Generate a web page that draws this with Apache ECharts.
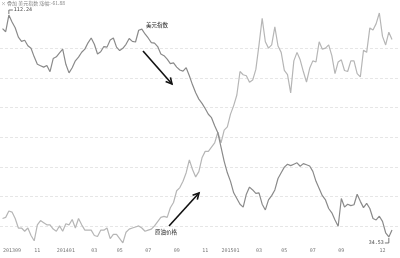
<!DOCTYPE html>
<html><head><meta charset="utf-8">
<script src="https://cdn.jsdelivr.net/npm/echarts@6/dist/echarts.min.js"></script>
<style>html,body{margin:0;padding:0;background:#fff}#c{width:400px;height:258px}</style>
</head><body><div id="c"></div>
<script>
// ---- data (weekly) ----
const startWeek = '2013-08-16';
const headerText = '× 叠加 美元指数 涨幅:-61.88';
const usdName = '美元指数';
const oilName = '原油价格';
const oil = [107.5,106.4,112.24,109.8,107.8,104.5,103.0,103.4,101.5,100.6,
  97.6,95.0,94.5,94.0,94.6,92.4,97.0,97.6,99.0,100.3,
  95.0,92.0,93.8,96.2,97.5,99.2,100.3,102.5,104.2,102.0,
  98.6,99.4,101.2,101.0,103.5,104.2,101.0,99.8,100.6,102.0,
  104.0,103.0,102.8,106.9,107.3,105.6,104.2,102.6,102.4,101.2,
  98.6,98.0,96.8,95.2,95.5,94.0,93.0,92.6,93.8,91.0,
  87.8,85.0,82.8,81.3,79.5,77.5,76.3,73.5,71.0,66.0,
  61.0,57.0,54.0,50.0,48.0,46.0,45.0,49.5,52.0,51.0,
  49.8,50.0,46.0,44.0,47.5,49.0,51.0,55.0,57.0,59.0,
  60.0,59.5,60.0,60.5,59.3,60.2,59.8,59.4,57.5,54.0,
  51.5,49.0,47.5,44.5,43.0,40.5,38.3,48.0,45.0,46.0,
  45.5,45.8,49.5,47.0,44.8,46.3,44.5,41.0,40.5,41.8,
  40.0,36.0,34.53,37.0];
const usd = [81.3,81.4,82.0,81.9,81.3,80.4,80.4,80.1,80.4,79.7,
  79.2,80.7,81.1,80.9,80.7,80.7,80.3,80.1,80.6,80.1,
  80.8,80.7,81.2,80.4,81.3,80.7,80.2,80.2,80.2,79.7,
  79.6,80.2,80.2,80.4,79.4,79.8,79.8,79.4,79.0,80.0,
  80.3,80.4,80.5,80.6,80.4,80.1,80.2,80.3,80.6,81.0,
  81.4,81.5,81.4,82.3,82.8,83.9,84.2,84.8,85.6,86.8,
  85.9,85.2,85.7,87.0,87.6,87.6,88.0,88.4,89.4,88.4,
  89.6,89.9,91.1,91.9,92.9,95.1,94.8,94.7,94.1,94.3,
  95.3,97.6,100.1,97.9,97.3,97.6,99.3,97.5,96.9,95.2,
  94.8,93.1,96.1,96.9,96.2,95.1,94.1,95.4,96.1,96.0,
  97.9,97.2,97.3,97.6,96.6,94.9,96.0,96.2,95.2,95.1,
  96.1,96.1,94.9,94.6,97.1,96.9,99.2,99.0,99.6,100.6,
  98.4,97.6,98.8,98.1];
const tickMonths = ['2013-09','2013-11','2014-01','2014-03','2014-05','2014-07','2014-09','2014-11',
  '2015-01','2015-03','2015-05','2015-07','2015-09','2015-12'];
const tickLabels = ['201309','11','201401','03','05','07','09','11','201501','03','05','07','09','12'];

// ---- categories (one per week) ----
const weeks = [];
const d0 = new Date(startWeek + 'T00:00:00Z');
for (let i = 0; i < oil.length; i++) {
  weeks.push(new Date(d0.getTime() + i * 7 * 86400000).toISOString().slice(0, 10));
}
const labelAt = {};
tickMonths.forEach((m, k) => {
  const i = weeks.findIndex(w => w.slice(0, 7) === m);
  if (i >= 0) labelAt[i] = tickLabels[k];
});

const chart = echarts.init(document.getElementById('c'), null, {renderer: 'canvas'});
const numFont = 'DejaVu Sans Mono, monospace';
chart.setOption({
  animation: false,
  backgroundColor: '#fff',
  grid: [
    {left: 0, right: 8, top: 10, bottom: 14},
    {left: 0, right: 0, top: 48.3, height: 177.9}
  ],
  xAxis: [
    {type: 'category', gridIndex: 0, data: weeks, boundaryGap: false,
     axisLine: {show: false}, axisTick: {show: false}, splitLine: {show: false},
     axisLabel: {interval: (i) => (i in labelAt), formatter: (v, i) => labelAt[i] || '',
       fontSize: 5, color: '#777', margin: 4, fontFamily: numFont}},
    {type: 'value', gridIndex: 1, show: false, min: 0, max: 1}
  ],
  yAxis: [
    {type: 'value', gridIndex: 0, show: false, min: 32.07, max: 114.0, splitLine: {show: false}},
    {type: 'value', gridIndex: 0, show: false, min: 78.9, max: 100.88, splitLine: {show: false}},
    {type: 'value', gridIndex: 1, min: 0, max: 6, interval: 1,
     axisLine: {show: false}, axisTick: {show: false}, axisLabel: {show: false},
     splitLine: {show: true, lineStyle: {color: '#e6e6e6', type: [3, 2], width: 1}}}
  ],
  series: [
    {name: oilName, type: 'line', xAxisIndex: 0, yAxisIndex: 0, data: oil, symbol: 'none',
     lineStyle: {color: '#8a8a8a', width: 1.2}, z: 4},
    {name: usdName, type: 'line', xAxisIndex: 0, yAxisIndex: 1, data: usd, symbol: 'none',
     lineStyle: {color: '#b6b6b6', width: 1.2}, z: 3}
  ]
});

// ---- annotations ----
function arrow(x1, y1, x2, y2) {
  const a = Math.atan2(y2 - y1, x2 - x1), L = 6, W = 3.2;
  const bx = x2 - L * Math.cos(a), by = y2 - L * Math.sin(a);
  const nx = -Math.sin(a), ny = Math.cos(a);
  return [
    {type: 'line', shape: {x1, y1, x2, y2}, style: {stroke: '#111', lineWidth: 1.6}, z: 10},
    {type: 'polyline', shape: {points: [[bx + nx * W, by + ny * W], [x2, y2], [bx - nx * W, by - ny * W]]},
     style: {stroke: '#111', lineWidth: 1.6, fill: null}, z: 10}
  ];
}
const maxI = oil.indexOf(Math.max(...oil));
const minI = oil.indexOf(Math.min(...oil));
const pMax = chart.convertToPixel({seriesIndex: 0}, [maxI, oil[maxI]]);
const pMin = chart.convertToPixel({seriesIndex: 0}, [minI, oil[minI]]);
const g = [
  {type: 'text', left: 1, top: 1, style: {text: headerText, fontSize: 5, fill: '#888', fontFamily: 'Noto Sans CJK SC'}},
  {type: 'text', x: 157, y: 25, style: {text: usdName, fontSize: 5.5, fill: '#222', align: 'center', verticalAlign: 'middle', fontFamily: 'Noto Sans CJK SC'}, z: 10},
  {type: 'text', x: 166, y: 232, style: {text: oilName, fontSize: 5.5, fill: '#222', align: 'center', verticalAlign: 'middle', fontFamily: 'Noto Sans CJK SC'}, z: 10},
  {type: 'polyline', shape: {points: [[pMax[0], pMax[1] - 1], [pMax[0], pMax[1] - 5], [pMax[0] + 4, pMax[1] - 5]]}, style: {stroke: '#555', lineWidth: 0.8, fill: null}, z: 10},
  {type: 'text', x: pMax[0] + 5, y: pMax[1] - 5, style: {text: String(oil[maxI]), fontSize: 5, fill: '#444', verticalAlign: 'middle', fontFamily: numFont}, z: 10},
  {type: 'polyline', shape: {points: [[pMin[0], pMin[1] + 1], [pMin[0], pMin[1] + 6], [pMin[0] - 4, pMin[1] + 6]]}, style: {stroke: '#555', lineWidth: 0.8, fill: null}, z: 10},
  {type: 'text', x: pMin[0] - 5, y: pMin[1] + 6, style: {text: String(oil[minI]), fontSize: 5, fill: '#444', align: 'right', verticalAlign: 'middle', fontFamily: numFont}, z: 10}
].concat(arrow(143, 51, 172, 84), arrow(169, 226, 199, 193));
chart.setOption({graphic: g});
</script>
</body></html>
